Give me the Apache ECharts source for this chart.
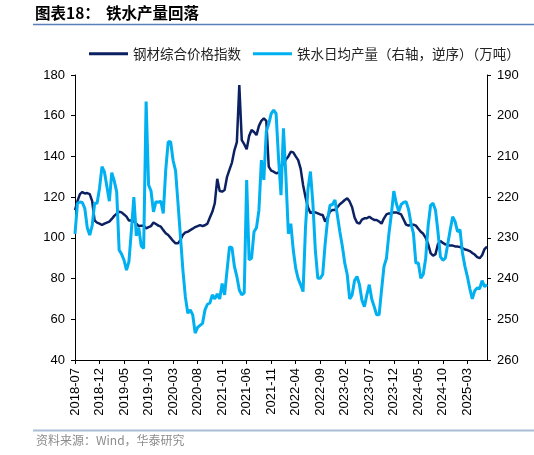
<!DOCTYPE html>
<html>
<head>
<meta charset="utf-8">
<script src="https://cdn.jsdelivr.net/npm/echarts@6/dist/echarts.min.js"></script>
<style>
html,body{margin:0;padding:0;background:#fff;}
#chart{width:534px;height:455px;}
</style>
</head>
<body>
<div id="chart"></div>
<script>
// Semi-monthly categories 2018-07 .. 2025-07
const startYear = 2018, startMonth = 7, pointCount = 169;
const categories = [];
for (let k = 0; k < pointCount; k++) {
  const m = startMonth - 1 + Math.floor(k / 2);
  const y = startYear + Math.floor(m / 12);
  const mm = (m % 12) + 1;
  categories.push(y + '-' + (mm < 10 ? '0' + mm : mm) + (k % 2 === 0 ? '-01' : '-16'));
}
const tickLabels = ['2018-07','2018-12','2019-05','2019-10','2020-03','2020-08','2021-01','2021-06','2021-11','2022-04','2022-09','2023-02','2023-07','2023-12','2024-05','2024-10','2025-03'];

const seriesNames = ['钢材综合价格指数', '铁水日均产量（右轴，逆序）（万吨）'];

const steelIndex = [
  113.7, 118, 121.5, 122.5, 121.8, 122, 121.5, 118, 108.5, 107.5,
  107, 106.3, 107, 107.5, 108, 109.3, 110.8, 111.8, 112.8, 112.5,
  111.5, 110.4, 108.5, 108.5, 108, 107, 105.8, 106, 106, 104.7,
  105.3, 105.8, 107.5, 106.8, 106, 105.5, 103.8, 102.3, 101.4, 100,
  98.5, 97.3, 97.3, 99, 101.5, 102.7, 103, 103.8, 104.5, 105.3,
  105.8, 106.3, 105.8, 106.2, 107, 110, 112.8, 117, 129, 123,
  122.7, 123.5, 130, 133.5, 137, 143, 147, 175, 148, 146,
  143.5, 150, 153, 152, 150.5, 155, 157.5, 158.7, 157.5, 135,
  133, 132.5, 131.7, 132, 135, 136.5, 138.5, 140, 142.3, 142,
  140, 138.2, 134, 126, 120, 115, 112.2, 112.8, 112.5, 112,
  111.5, 111.2, 108, 110, 113, 113.7, 113.7, 115, 116.5, 117.5,
  118.6, 119.4, 117.8, 115, 110, 107.5, 107, 109, 109.6, 109.6,
  110.4, 109.5, 108.8, 108.8, 108, 107, 109.6, 111.5, 112, 112,
  112.5, 112.5, 112, 111.5, 109, 106.5, 106, 106.5, 106.5, 106,
  104.5, 103, 102, 100, 97, 92.5, 91.2, 92, 97, 98.5,
  97.5, 96.8, 96.5, 96.2, 96.2, 95.8, 95.7, 95.5, 95, 94.3,
  94, 93.5, 92.6, 91.8, 90.5, 90, 91.5, 94.5, 95.7
];

const ironOutput = [
  229, 221.5, 221.2, 221.3, 222.8, 227.5, 229.3, 227, 221.5, 221.5,
  217.8, 212.5, 213.8, 217.4, 221, 214, 216, 218.7, 233, 234,
  235.5, 237.9, 235.8, 228.1, 220, 229.5, 227.5, 232, 232.6, 196.5,
  217, 218.5, 223.6, 221.1, 221.3, 221, 224, 213.3, 206.4, 206.4,
  211, 213.5, 221.5, 229.7, 237.9, 244.5, 248.5, 247.7, 248.9, 253.4,
  252, 251.5, 251, 247.7, 246.3, 246, 244, 245, 243.8, 245,
  241.2, 244, 238, 232.2, 232.4, 237, 239.5, 242.8, 244, 243.5,
  215.8, 235.4, 235, 228.5, 227.5, 223.2, 210.9, 215.8, 203.9, 202,
  199.5, 198.6, 199.5, 210.5, 219.5, 203.1, 215, 229, 226.5, 233,
  237.5, 240, 241.5, 243.2, 227.3, 218, 213.7, 221.5, 233, 239.9,
  239.9, 239, 231.5, 225.5, 222, 221.8, 220.7, 224.5, 228.5, 232,
  236.2, 239, 245, 244, 240.5, 239.5, 241.5, 245.3, 246.9, 244,
  241.5, 245, 246.9, 248.9, 248.9, 242.8, 237, 235, 229, 224.2,
  218.5, 221.5, 223.5, 221.8, 221.3, 221.1, 223, 226.5, 228.9, 236.2,
  236.2, 239.9, 239, 235, 227, 222, 221.5, 223.2, 228.5, 234.6,
  235.5, 235, 231.5, 228, 224.8, 226, 228.5, 228, 233.8, 237,
  239.5, 242.5, 245, 243, 242.3, 242.5, 240.5, 242, 241.5
];

const NUM_FONT = '"Liberation Sans", Arial, sans-serif';
const CJK_FONT = '"Noto Sans CJK SC", "Noto Sans", sans-serif';

const showTick = function (idx, val) {
  return val.slice(8) === '01' && tickLabels.indexOf(val.slice(0, 7)) >= 0;
};

const chart = echarts.init(document.getElementById('chart'), null, {renderer: 'canvas'});
chart.setOption({
  animation: false,
  backgroundColor: '#fff',
  graphic: [
    {type: 'text', left: 35, top: 5, style: {text: '图表18：', font: 'bold 15.5px ' + CJK_FONT, fill: '#000'}},
    {type: 'text', left: 106, top: 5, style: {text: '铁水产量回落', font: 'bold 15.5px ' + CJK_FONT, fill: '#000'}},
    {type: 'line', shape: {x1: 33, y1: 24.5, x2: 534, y2: 24.5}, style: {stroke: '#5b80b8', lineWidth: 1.5}},
    {type: 'line', shape: {x1: 33, y1: 430.5, x2: 534, y2: 430.5}, style: {stroke: '#a9bdd6', lineWidth: 2}},
    {type: 'text', left: 36, top: 434, style: {text: '资料来源：Wind，华泰研究', font: '12px ' + CJK_FONT, fill: '#8c8c8c'}}
  ],
  legend: {
    left: 84, top: 42,
    icon: 'rect', itemWidth: 39, itemHeight: 3, itemGap: 12,
    textStyle: {fontFamily: CJK_FONT, fontSize: 13.5, color: '#222'},
    data: seriesNames
  },
  grid: {left: 75, right: 47, top: 75, bottom: 95, containLabel: false},
  xAxis: {
    type: 'category', boundaryGap: false, data: categories,
    axisLine: {lineStyle: {color: '#000', width: 1}},
    axisTick: {show: true, interval: showTick, length: 4, lineStyle: {color: '#000'}},
    axisLabel: {interval: showTick, rotate: 90, margin: 8, fontFamily: NUM_FONT, fontSize: 13, color: '#000',
      formatter: function (v) { return v.slice(0, 7); }},
    splitLine: {show: false}
  },
  yAxis: [
    {type: 'value', min: 40, max: 180, interval: 20, position: 'left',
      axisLine: {show: true, lineStyle: {color: '#000', width: 1}},
      axisTick: {show: true, length: 4, lineStyle: {color: '#000'}},
      axisLabel: {fontFamily: NUM_FONT, fontSize: 13, color: '#000', margin: 10},
      splitLine: {show: false}},
    {type: 'value', min: 190, max: 260, interval: 10, inverse: true, position: 'right',
      axisLine: {show: true, lineStyle: {color: '#000', width: 1}},
      axisTick: {show: true, length: 4, lineStyle: {color: '#000'}},
      axisLabel: {fontFamily: NUM_FONT, fontSize: 13, color: '#000', margin: 10},
      splitLine: {show: false}}
  ],
  series: [
    {name: seriesNames[0], type: 'line', yAxisIndex: 0, data: steelIndex, symbol: 'none',
      lineStyle: {color: '#0c2162', width: 2.5}, itemStyle: {color: '#0c2162'}},
    {name: seriesNames[1], type: 'line', yAxisIndex: 1, data: ironOutput, symbol: 'none',
      lineStyle: {color: '#00b0f0', width: 3}, itemStyle: {color: '#00b0f0'}}
  ]
});
</script>
</body>
</html>
